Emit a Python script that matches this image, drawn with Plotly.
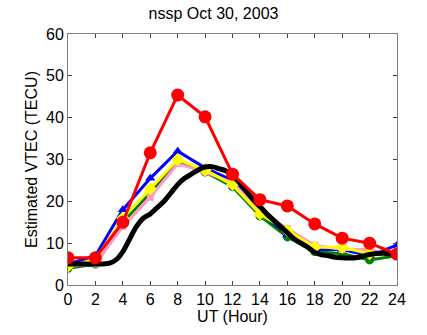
import plotly.graph_objects as go

hours = [0, 2, 4, 6, 8, 10, 12, 14, 16, 18, 20, 22, 24]
red = [6.5, 6.5, 15, 31.6, 45.4, 40.2, 26.5, 20.4, 18.9, 14.6, 11.2, 10, 7.4]
blue = [5, 7, 18, 25.5, 32, 28, 25, 17.5, 12, 8.5, 8.5, 7, 9.5]
yellow = [4.5, 6, 16, 23, 30, 27.5, 24, 17, 13, 9, 9, 7.5, 7.5]
pink = [4.5, 5, 14, 21, 29, 27, 24.5, 17.5, 13.5, 9.5, 8.5, 8.5, 7]
green = [4, 5, 15, 22, 29.5, 27, 23.5, 16.5, 11.5, 8, 7.5, 6, 7]

black_t = [0, 1, 2, 3, 3.5, 4, 4.5, 5, 5.5, 6, 6.5, 7, 7.5, 8, 8.5, 9, 9.5, 10, 10.5, 11,
           11.5, 12, 12.5, 13, 13.5, 14, 14.5, 15, 15.5, 16, 16.5, 17, 17.5, 18, 18.5, 19,
           19.5, 20, 21, 22, 23, 24]
black_v = [5, 5, 5, 5.2, 6, 8, 11, 14, 16, 17, 18.5, 20, 22, 24, 25.5, 26.5, 27.5, 28.2, 28.3, 27.8,
           27.3, 26, 24.5, 22.5, 20.5, 18.8, 17, 15.5, 14, 12.5, 11, 10, 9, 7.8, 7.2, 7,
           6.6, 6.5, 6.5, 7.3, 7.6, 7.2]

fig = go.Figure()
fig.add_trace(go.Scatter(x=hours, y=green, mode='lines+markers',
                         line=dict(color='#008000', width=3),
                         marker=dict(symbol='circle', size=9, color='#008000')))
fig.add_trace(go.Scatter(x=hours, y=blue, mode='lines+markers',
                         line=dict(color='#0000ff', width=3),
                         marker=dict(symbol='triangle-up', size=9, color='#0000ff')))
fig.add_trace(go.Scatter(x=hours, y=pink, mode='lines+markers',
                         line=dict(color='#ff99cc', width=3),
                         marker=dict(symbol='square', size=7, color='#ff99cc')))
fig.add_trace(go.Scatter(x=hours, y=yellow, mode='lines+markers',
                         line=dict(color='#ffff00', width=3),
                         marker=dict(symbol='diamond', size=10, color='#ffff00')))
fig.add_trace(go.Scatter(x=black_t, y=black_v, mode='lines',
                         line=dict(color='#000000', width=5, shape='spline')))
fig.add_trace(go.Scatter(x=hours, y=red, mode='lines+markers',
                         line=dict(color='#ff0000', width=3),
                         marker=dict(symbol='circle', size=13, color='#ff0000')))

axis_common = dict(showgrid=False, zeroline=False, showline=True, linecolor='#808080',
                   linewidth=1, mirror='ticks', ticks='inside', ticklen=4,
                   tickcolor='#404040', tickfont=dict(size=16, color='black'))

fig.update_layout(
    width=427, height=335,
    margin=dict(l=68, r=30, t=34, b=50),
    paper_bgcolor='white', plot_bgcolor='white',
    showlegend=False,
    font=dict(family='Liberation Sans, Arial, sans-serif', color='black'),
    title=dict(text='nssp Oct 30, 2003', x=0.5, xanchor='center', y=0.978, yanchor='top',
               font=dict(size=16, color='black')),
    xaxis=dict(range=[0, 24], tickvals=hours, ticktext=[str(h) for h in hours],
               title=dict(text='UT (Hour)', font=dict(size=16), standoff=2), **axis_common),
    yaxis=dict(range=[0, 60], tickvals=[0, 10, 20, 30, 40, 50, 60],
               title=dict(text='Estimated VTEC (TECU)', font=dict(size=16), standoff=4),
               **axis_common),
)

fig.write_html("out.html")
